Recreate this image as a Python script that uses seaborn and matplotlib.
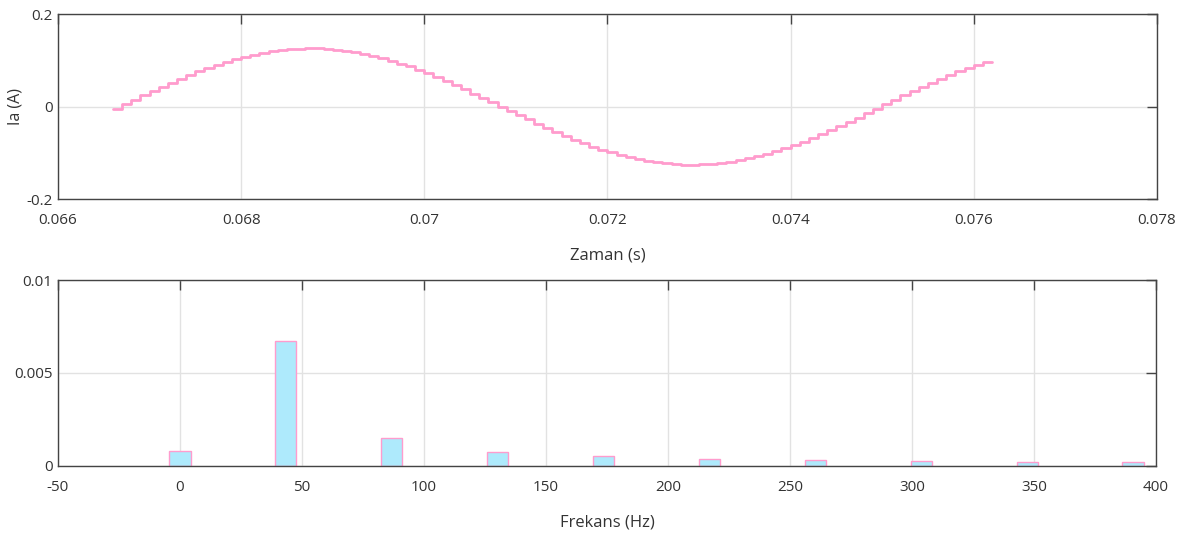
import numpy as np
import pandas as pd
import matplotlib
matplotlib.use("Agg")
import matplotlib.pyplot as plt
import seaborn as sns

# Time signal: stepped phase current Ia (sampled every 0.1 ms)
t_start = 0.0666
t_step = 0.0001
ia_values = [
    -0.005, 0.005, 0.014, 0.024, 0.033, 0.042, 0.051, 0.060, 0.068, 0.076,
    0.083, 0.090, 0.096, 0.102, 0.108, 0.112, 0.116, 0.120, 0.122, 0.124,
    0.125, 0.126, 0.126, 0.125, 0.123, 0.121, 0.118, 0.114, 0.110, 0.105,
    0.099, 0.093, 0.087, 0.079, 0.072, 0.064, 0.055, 0.047, 0.038, 0.028,
    0.019, 0.010, 0.000, -0.010, -0.019, -0.028, -0.038, -0.047, -0.055, -0.064,
    -0.072, -0.079, -0.087, -0.093, -0.099, -0.105, -0.110, -0.114, -0.118, -0.121,
    -0.123, -0.125, -0.126, -0.126, -0.125, -0.124, -0.122, -0.120, -0.116, -0.112,
    -0.108, -0.102, -0.096, -0.090, -0.083, -0.076, -0.068, -0.060, -0.051, -0.042,
    -0.033, -0.024, -0.014, -0.005, 0.005, 0.014, 0.024, 0.033, 0.042, 0.051,
    0.059, 0.068, 0.076, 0.083, 0.090, 0.097,
]

# Spectrum
freq_hz = [0, 43.4, 86.8, 130.2, 173.6, 217.0, 260.4, 303.8, 347.2, 390.6]
amp = [0.00080, 0.00669, 0.00150, 0.00072, 0.00052, 0.00036, 0.00030, 0.00025, 0.00021, 0.00020]

top_xticks = [0.066, 0.068, 0.07, 0.072, 0.074, 0.076, 0.078]
top_xlabels = ["0.066", "0.068", "0.07", "0.072", "0.074", "0.076", "0.078"]
top_yticks = [-0.2, 0, 0.2]
top_ylabels = ["-0.2", "0", "0.2"]
bot_xticks = [-50, 0, 50, 100, 150, 200, 250, 300, 350, 400]
bot_yticks = [0, 0.005, 0.01]
bot_ylabels = ["0", "0.005", "0.01"]

pink = "#ff9ccd"
cyan = "#aeeafc"
ink = "#333333"

sns.set_style("whitegrid")
plt.rcParams["font.family"] = ["Open Sans", "DejaVu Sans"]
plt.rcParams["axes.unicode_minus"] = False

n = len(ia_values)
sig = pd.DataFrame({
    "t": np.round(t_start + t_step * np.arange(n + 1), 6),
    "ia": ia_values + [ia_values[-1]],
})
spec = pd.DataFrame({"f": freq_hz, "a": amp})

fig = plt.figure(figsize=(11.88, 5.35), dpi=100)
ax1 = fig.add_axes([0.0488, 0.628, 0.9250, 0.3458])
ax2 = fig.add_axes([0.0488, 0.1295, 0.9242, 0.3471])

sns.lineplot(data=sig, x="t", y="ia", ax=ax1, color=pink, linewidth=2.0,
             drawstyle="steps-post")
ax1.set_xlim(0.066, 0.078)
ax1.set_ylim(-0.2, 0.2)
ax1.set_xticks(top_xticks, top_xlabels)
ax1.set_yticks(top_yticks, top_ylabels)
ax1.set_xlabel("Zaman (s)", fontsize=12, labelpad=14, color=ink)
ax1.set_ylabel("Ia (A)", fontsize=11.5, labelpad=2, color=ink)

sns.barplot(data=spec, x="f", y="a", ax=ax2, native_scale=True, width=0.2,
            color=cyan, saturation=1, edgecolor=pink, linewidth=1.0)
ax2.set_xlim(-50, 400)
ax2.set_ylim(0, 0.01)
ax2.set_xticks(bot_xticks, [str(v) for v in bot_xticks])
ax2.set_yticks(bot_yticks, bot_ylabels)
ax2.set_xlabel("Frekans (Hz)", fontsize=12, labelpad=14, color=ink)
ax2.set_ylabel("")

for ax in (ax1, ax2):
    ax.grid(True, color="#e2e2e2", linewidth=1.0)
    ax.set_axisbelow(True)
    for s in ax.spines.values():
        s.set_visible(True)
        s.set_color("#444444")
        s.set_linewidth(1.0)
    ax.tick_params(axis="both", direction="in", length=7, width=1.0,
                   color="#444444", labelsize=11, labelcolor=ink,
                   top=True, right=True)
    ax.tick_params(axis="x", pad=10)
    ax.tick_params(axis="y", pad=4)

fig.savefig("out.png", dpi=100)
